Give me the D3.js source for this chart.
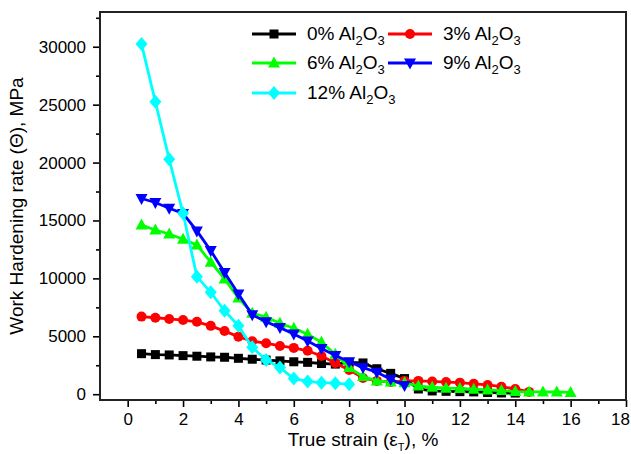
<!DOCTYPE html>
<html><head><meta charset="utf-8">
<script src="https://cdn.jsdelivr.net/npm/d3@7"></script>
<style>body{margin:0;background:#fff}svg{display:block}text{font-family:"Liberation Sans",Arial,sans-serif}</style>
</head><body>
<svg id="c" width="631" height="454"></svg>
<script>
const seriesNames = ["0%", "3%", "6%", "9%", "12%"];
const colors = ["#000000", "#ff0000", "#00ff00", "#0000ff", "#00ffff"];
const markers = ["square", "circle", "triangle", "triangleDown", "diamond"];

const strain0 = [0.5,1,1.5,2,2.5,3,3.5,4,4.5,5,5.5,6,6.5,7,7.5,8,8.5,9,9.5,10,10.5,11,11.5,12,12.5,13,13.5,14];
const theta0  = [3500,3420,3390,3330,3280,3220,3190,3100,3020,2950,2880,2800,2750,2650,2600,2750,2700,2200,1800,1350,450,280,250,220,200,150,110,100];

const strain3 = [0.5,1,1.5,2,2.5,3,3.5,4,4.5,5,5.5,6,6.5,7,7.5,8,8.5,9,9.5,10,10.5,11,11.5,12,12.5,13,13.5,14,14.5];
const theta3  = [6700,6600,6500,6400,6250,5900,5450,4970,4580,4400,4170,4000,3750,3300,2700,2100,1400,1150,1050,1150,1150,1100,1050,1000,900,800,650,450,200];

const strain6 = [0.5,1,1.5,2,2.5,3,3.5,4,4.5,5,5.5,6,6.5,7,7.5,8,8.5,9,9.5,10,10.5,11,11.5,12,12.5,13,13.5,14,14.5,15,15.5,16];
const theta6  = [14600,14180,13830,13380,12890,11400,9950,8300,7000,6650,6130,5700,5180,4480,3450,2300,1520,1150,1050,1000,700,600,520,500,430,370,310,230,200,200,190,150];

const strain9 = [0.5,1,1.5,2,2.5,3,3.5,4,4.5,5,5.5,6,6.5,7,7.5,8,8.5,9,9.5,10];
const theta9  = [16900,16550,16050,15600,14100,12400,10500,8650,6850,6250,5750,5200,4600,3950,3350,2800,2300,1900,1300,750];

const strain12 = [0.5,1,1.5,2,2.5,3,3.5,4,4.5,5,5.5,6,6.5,7,7.5,8];
const theta12  = [30230,25250,20280,15620,10150,8800,7200,5900,4050,2960,2300,1350,1100,1000,950,850];

const xTicks = [0,2,4,6,8,10,12,14,16,18];
const yTicks = [0,5000,10000,15000,20000,25000,30000];

const strains = [strain0, strain3, strain6, strain9, strain12];
const thetas = [theta0, theta3, theta6, theta9, theta12];

const svg = d3.select("#c");
const L = 100, R = 626, T = 12, B = 400;
const x = d3.scaleLinear().domain([-1, 18]).range([L, R]);
const y = d3.scaleLinear().domain([-500, 33000]).range([B, T]);

// axes
const xAxis = d3.axisBottom(x).tickValues(d3.range(-1, 19, 1)).tickSize(6).tickFormat(d => xTicks.includes(d) ? d : "");
const gx = svg.append("g").attr("transform", `translate(0,${B})`).call(xAxis);
gx.select(".domain").remove();
gx.selectAll(".tick line").attr("stroke", "#000").attr("stroke-width", 1.6).attr("y2", d => xTicks.includes(d) ? 7 : 4);
gx.selectAll(".tick").filter(d => d === -1).remove();
gx.selectAll(".tick text").attr("font-size", 17).attr("dy", "0.95em").attr("y", 9).attr("fill", "#000")
  .attr("x", d => d === 18 ? -6 : 0);

const yAxis = d3.axisLeft(y).tickValues(d3.range(0, 33000, 2500)).tickSize(6).tickFormat(d => yTicks.includes(d) ? d : "");
const gy = svg.append("g").attr("transform", `translate(${L},0)`).call(yAxis);
gy.select(".domain").remove();
gy.selectAll(".tick line").attr("stroke", "#000").attr("stroke-width", 1.6).attr("x2", d => yTicks.includes(d) ? -7 : -4);
gy.selectAll(".tick text").attr("font-size", 17).attr("x", -14).attr("fill", "#000");

// frame
svg.append("rect").attr("x", L).attr("y", T).attr("width", R - L).attr("height", B - T)
  .attr("fill", "none").attr("stroke", "#222").attr("stroke-width", 2);

// axis titles
const xt = svg.append("text").attr("x", 363).attr("y", 446).attr("text-anchor", "middle").attr("font-size", 19).attr("fill", "#000");
xt.append("tspan").text("True strain (ε");
xt.append("tspan").text("T").attr("font-size", 11).attr("dy", 5);
xt.append("tspan").text("), %").attr("dy", -5);

svg.append("text").attr("transform", "translate(23,206) rotate(-90)").attr("text-anchor", "middle")
  .attr("font-size", 19).attr("fill", "#000").text("Work Hardening rate (Θ), MPa");

function drawMarker(g, type, cx, cy, color) {
  let p;
  if (type === "square") p = g.append("rect").attr("x", cx - 4.5).attr("y", cy - 4.5).attr("width", 9).attr("height", 9);
  else if (type === "circle") p = g.append("circle").attr("cx", cx).attr("cy", cy).attr("r", 5);
  else if (type === "triangle") p = g.append("path").attr("d", `M${cx},${cy - 6.5}L${cx + 6},${cy + 4.5}L${cx - 6},${cy + 4.5}Z`);
  else if (type === "triangleDown") p = g.append("path").attr("d", `M${cx},${cy + 6.5}L${cx + 6},${cy - 4.5}L${cx - 6},${cy - 4.5}Z`);
  else p = g.append("path").attr("d", `M${cx},${cy - 7}L${cx + 6},${cy}L${cx},${cy + 7}L${cx - 6},${cy}Z`);
  p.attr("fill", color);
}

const line = d3.line().x(d => x(d[0])).y(d => y(d[1]));
seriesNames.forEach((n, i) => {
  const pts = strains[i].map((s, j) => [s, thetas[i][j]]);
  const g = svg.append("g");
  g.append("path").datum(pts).attr("d", line).attr("fill", "none").attr("stroke", colors[i]).attr("stroke-width", 2.8);
  pts.forEach(p => drawMarker(g, markers[i], x(p[0]), y(p[1]), colors[i]));
});

// legend
const legPos = [[252, 34], [388, 34], [252, 63], [388, 63], [252, 93]];
seriesNames.forEach((n, i) => {
  const [lx, ly] = legPos[i];
  const g = svg.append("g");
  g.append("line").attr("x1", lx).attr("x2", lx + 44).attr("y1", ly).attr("y2", ly).attr("stroke", colors[i]).attr("stroke-width", 2.8);
  drawMarker(g, markers[i], lx + 22, ly, colors[i]);
  const t = g.append("text").attr("x", lx + 55).attr("y", ly + 6).attr("font-size", 19).attr("fill", "#000");
  t.append("tspan").text(n + " Al");
  t.append("tspan").text("2").attr("font-size", 13).attr("dy", 5);
  t.append("tspan").text("O").attr("dy", -5);
  t.append("tspan").text("3").attr("font-size", 13).attr("dy", 5);
});
</script>
</body></html>
